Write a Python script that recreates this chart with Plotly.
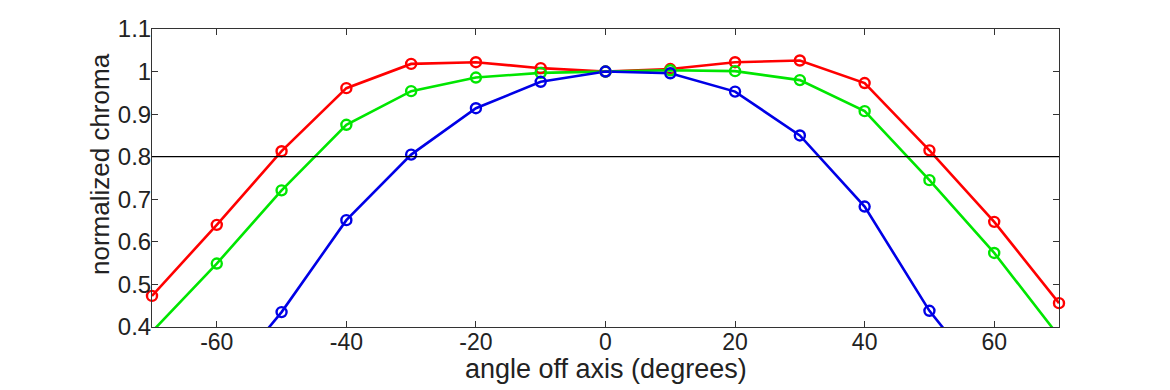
import numpy as np
import plotly.graph_objects as go

angles = [-70, -60, -50, -40, -30, -20, -10, 0, 10, 20, 30, 40, 50, 60, 70]
red = [0.473, 0.640, 0.813, 0.961, 1.018, 1.022, 1.008, 1.000, 1.006, 1.022, 1.026, 0.973, 0.815, 0.647, 0.456]
green = [0.389, 0.549, 0.721, 0.875, 0.954, 0.986, 0.997, 1.000, 1.003, 1.001, 0.980, 0.907, 0.745, 0.574, 0.378]
blue = [0.10, 0.25, 0.435, 0.651, 0.805, 0.914, 0.976, 1.000, 0.996, 0.953, 0.850, 0.683, 0.438, 0.248, 0.10]

x_ticks = [-60, -40, -20, 0, 20, 40, 60]
x_labels = ["-60", "-40", "-20", "0", "20", "40", "60"]
y_ticks = [0.4, 0.5, 0.6, 0.7, 0.8, 0.9, 1.0, 1.1]
y_labels = ["0.4", "0.5", "0.6", "0.7", "0.8", "0.9", "1", "1.1"]
threshold = 0.8
x_title = "angle off axis (degrees)"
y_title = "normalized chroma"

series = [("red", red, "#ff0000"), ("green", green, "#00e600"), ("blue", blue, "#0000e6")]

FONT = "Liberation Sans, Arial, sans-serif"

fig = go.Figure()
fig.add_hline(y=threshold, line=dict(color="black", width=1.2))
for name, vals, col in series:
    fig.add_trace(go.Scatter(x=angles, y=vals, mode="lines",
                             line=dict(color=col, width=2.6), showlegend=False))
for name, vals, col in series:
    a = np.array(angles); v = np.array(vals)
    m = (v >= 0.4) & (v <= 1.1)
    fig.add_trace(go.Scatter(x=a[m], y=v[m], mode="markers", cliponaxis=False,
                             marker=dict(symbol="circle-open", size=10, color=col,
                                         line=dict(width=2.4, color=col)),
                             showlegend=False))

# page body has an 8px default margin, so margins are shifted by 8px
fig.update_layout(
    width=1170, height=390,
    margin=dict(l=144, r=119, t=21, b=71),
    paper_bgcolor="white", plot_bgcolor="white",
    font=dict(family=FONT, size=23, color="#222222"),
)
fig.add_annotation(text=x_title, xref="paper", yref="paper", x=0.5, y=0,
                   xanchor="center", yanchor="middle", yshift=-42, showarrow=False,
                   font=dict(size=27, color="#222222"))
fig.add_annotation(text=y_title, xref="paper", yref="paper", x=0, y=0.547,
                   xanchor="center", yanchor="middle", xshift=-52, textangle=-90,
                   showarrow=False, font=dict(size=26, color="#222222"))
fig.update_xaxes(range=[-70, 70], tickvals=x_ticks, ticktext=x_labels, ticks="inside", ticklen=6,
                 tickcolor="#333", showline=True, linecolor="#333", linewidth=1,
                 mirror="ticks", showgrid=False, zeroline=False, automargin=False,
                 tickfont=dict(size=23), ticklabelstandoff=-6)
fig.update_yaxes(range=[0.4, 1.1], tickvals=y_ticks, ticktext=y_labels,
                 ticks="inside", ticklen=6,
                 tickcolor="#333", showline=True, linecolor="#333", linewidth=1,
                 mirror="ticks", showgrid=False, zeroline=False, automargin=False,
                 tickfont=dict(size=24), ticklabelstandoff=-5)

fig.write_html("out.html")
